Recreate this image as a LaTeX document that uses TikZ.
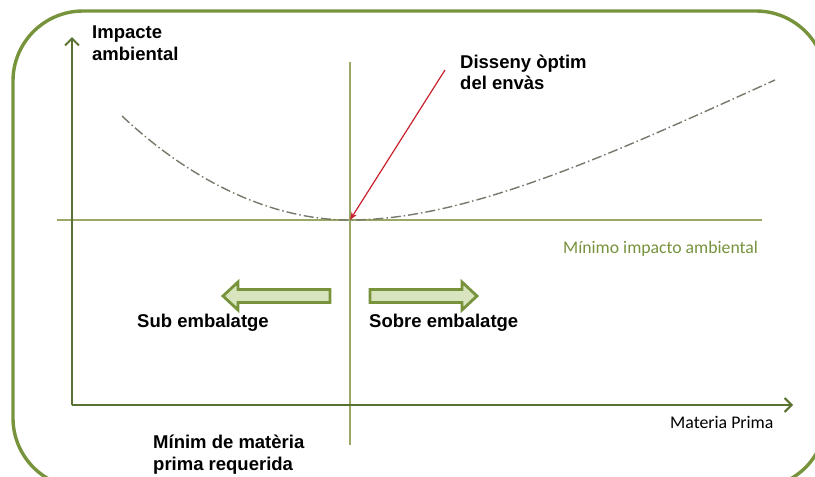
\documentclass[tikz,border=0pt]{standalone}
\usepackage{fontspec}
\setmainfont{Liberation Sans}
\newfontfamily\calib{Carlito}
\usetikzlibrary{arrows.meta}
\definecolor{frameg}{HTML}{77933C}
\definecolor{axisg}{HTML}{5A7230}
\definecolor{thing}{HTML}{9AA866}
\definecolor{curveg}{HTML}{75796A}
\definecolor{arrfill}{HTML}{D7E4BD}
\definecolor{redarr}{HTML}{C8202C}
\definecolor{labg}{HTML}{76923C}
\tikzset{
  boldlab/.style={font=\bfseries\fontsize{18.5}{21.5}\selectfont, inner sep=0pt, align=left, anchor=base west},
  greenlab/.style={font=\calib\fontsize{17.7}{20}\selectfont, text=labg, inner sep=0pt, anchor=base west},
  plainlab/.style={font=\calib\fontsize{17.8}{20}\selectfont, inner sep=0pt, anchor=base west},
  axisline/.style={draw=axisg, line width=2.2pt, -{Straight Barb[length=7pt,width=14pt,line width=2pt]}},
  thinline/.style={draw=thing, line width=1.1pt},
  blockarr/.style={draw=frameg, fill=arrfill, line width=2.8pt, line join=miter},
}
\begin{document}
\begin{tikzpicture}[x=1pt,y=-1pt]
\useasboundingbox (0,0) rectangle (815,477);
\begin{scope}
\clip (0,0) rectangle (815,477);
% outer frame
\draw[frameg, line width=3.4pt, rounded corners=70pt] (13,11) rectangle (826,488);
\end{scope}
% thin reference lines
\coordinate (hl) at (57,220);
\coordinate (hr) at (762,220);
\coordinate (vt) at (350,62);
\coordinate (vb) at (350,445);
\draw[thinline] (hl) -- (hr);
\draw[thinline] (vt) -- (vb);
% axes
\coordinate (o) at (72,405);
\coordinate (ytop) at (72,37);
\coordinate (xend) at (793,405);
\draw[axisline] (o) -- (ytop);
\draw[axisline] (o) -- (xend);
% curve
\coordinate (cl) at (122,116);
\coordinate (cm) at (350,220);
\coordinate (cr) at (775,80);
\draw[curveg, line width=1.4pt, dash pattern=on 10pt off 3pt on 1.5pt off 3pt]
  (cl) .. controls (190,180) and (270,220) .. (cm)
       .. controls (470,220) and (620,150) .. (cr);
% labels (anchor = baseline of the last line)
\node[boldlab] (yl) at (92,60) {Impacte\\ambiental};
\node[boldlab] (opt) at (460,89.5) {Disseny òptim\\del envàs};
\node[boldlab] (sub) at (137,327) {Sub embalatge};
\node[boldlab] (sob) at (369,327) {Sobre embalatge};
\node[boldlab] (min) at (153,470) {Mínim de matèria\\prima requerida};
\node[greenlab] (mia) at (563,253) {Mínimo impacto ambiental};
\node[plainlab] (mp) at (670,428) {Materia Prima};
% red arrow
\coordinate (rs) at (445,70);
\draw[redarr, line width=1.2pt, -{Stealth[length=8pt,width=6pt]}] (rs) -- (cm);
% block arrows
\draw[blockarr] (330,289.5) -- (238,289.5) -- (238,282) -- (223,296) -- (238,310) -- (238,302.5) -- (330,302.5) -- cycle;
\draw[blockarr] (370,289.5) -- (462,289.5) -- (462,282) -- (477,296) -- (462,310) -- (462,302.5) -- (370,302.5) -- cycle;
\end{tikzpicture}
\end{document}
